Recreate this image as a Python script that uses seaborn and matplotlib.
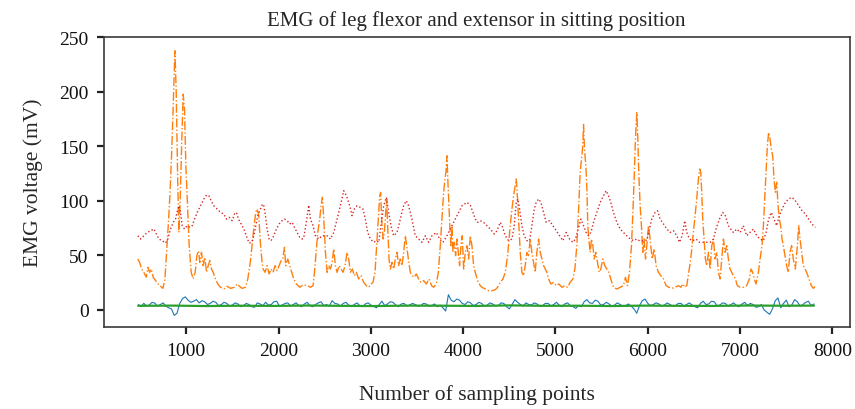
import numpy as np
import pandas as pd
import matplotlib
matplotlib.use("Agg")
import matplotlib.pyplot as plt
import seaborn as sns

# ---- data: sampling point index vs EMG voltage (mV) ----
# Channel 1 (blue): small baseline signal, sampled every 30 points
blue_x = np.arange(480, 7801, 30)
blue_y = [
    5.0, 3.2, 6.0, 3.8, 4.5, 7.0, 6.2, 3.5, 5.0, 6.5, 3.5, 2.0, 1.0, -5.0, -3.0, 6.0, 10.5, 12.0, 9.0, 7.0,
    8.0, 9.5, 6.5, 8.5, 7.5, 5.0, 6.0, 8.0, 7.0, 4.0, 5.0, 7.0, 6.0, 3.5, 4.5, 6.5, 5.5, 3.0, 4.0, 6.0,
    5.0, 3.0, 2.5, 6.5, 5.5, 4.0, 7.0, 4.5, 5.0, 7.5, 8.0, 3.5, 4.5, 6.0, 6.5, 3.5, 5.0, 6.5, 4.0, 3.0,
    5.5, 7.0, 4.0, 3.0, 5.0, 6.5, 7.5, 4.0, 5.0, 3.5, 8.5, 6.0, 5.5, 3.5, 6.0, 7.0, 4.5, 3.0, 5.0, 6.5,
    4.0, 3.0, 5.5, 6.5, 4.5, 3.5, 2.0, 5.0, 8.0, 4.0, 5.5, 7.5, 7.0, 4.5, 3.0, 5.5, 6.0, 3.5, 4.5, 6.0,
    5.0, 3.5, 4.0, 6.0, 5.5, 3.5, 4.0, 5.5, 3.0, 4.5, 2.0, -1.0, 14.0, 9.0, 7.5, 10.0, 9.0, 6.0, 5.0, 7.5,
    6.5, 4.0, 5.0, 7.0, 6.0, 3.5, 4.5, 6.5, 5.5, 3.5, 4.0, 6.5, 6.0, 3.0, 1.0, 5.0, 9.5, 7.0, 5.0, 3.5,
    6.5, 5.0, 4.5, 6.5, 5.5, 3.5, 4.0, 6.0, 6.0, 3.5, 5.0, 7.0, 4.5, 3.0, 5.5, 6.5, 4.0, 3.0, 1.5, 4.0,
    3.0, 7.5, 9.5, 6.5, 6.0, 9.0, 8.0, 4.5, 5.0, 7.0, 5.5, 3.5, 4.5, 6.5, 5.0, 3.5, 4.0, 5.5, 3.5, 1.0,
    -3.0, 4.0, 8.5, 10.0, 6.0, 4.0, 5.0, 6.5, 5.5, 3.5, 4.5, 6.5, 5.0, 3.5, 4.0, 6.0, 6.0, 3.5, 5.0, 6.5,
    4.5, 3.0, 2.0, 6.0, 8.0, 5.0, 5.5, 8.0, 7.5, 4.0, 4.5, 6.5, 6.0, 3.5, 5.0, 6.5, 4.0, 3.0, 5.5, 7.0,
    4.0, 6.0, 5.0, 2.5, 3.0, 5.0, 0.0, -2.0, -4.0, 1.0, 8.5, 11.0, 2.0, 6.0, 9.0, 3.0, 4.5, 9.5, 7.5, 3.5,
    5.0, 7.0, 8.0, 4.0, 5.5,
]

# Channel 2 (orange): large bursts
orange_x = [
    476, 498, 516, 541, 567, 585, 603, 621, 642, 668, 693, 722, 747, 769, 787,
    805, 823, 841, 859, 877, 891, 906, 920, 935, 949, 967, 981, 996, 1014, 1032,
    1054, 1075, 1097, 1115, 1133, 1147, 1165, 1183, 1201, 1220, 1238, 1256, 1274,
    1292, 1317, 1342, 1371, 1407, 1443, 1479, 1523, 1551, 1577, 1605, 1641, 1667,
    1696, 1717, 1735, 1753, 1768, 1786, 1800, 1818, 1833, 1854, 1876, 1898, 1919,
    1941, 1963, 1984, 2006, 2028, 2046, 2064, 2078, 2100, 2121, 2143, 2165, 2194,
    2230, 2266, 2309, 2345, 2374, 2389, 2407, 2425, 2446, 2461, 2475, 2490, 2508,
    2526, 2544, 2562, 2580, 2598, 2616, 2634, 2655, 2677, 2699, 2720, 2742, 2760,
    2778, 2800, 2821, 2843, 2868, 2894, 2922, 2951, 2977, 3002, 3023, 3045, 3063,
    3081, 3096, 3106, 3117, 3132, 3146, 3161, 3171, 3182, 3197, 3211, 3229, 3247,
    3265, 3283, 3301, 3319, 3337, 3355, 3373, 3388, 3406, 3427, 3449, 3471, 3492,
    3518, 3543, 3572, 3601, 3630, 3658, 3680, 3709, 3731, 3752, 3770, 3788, 3803,
    3813, 3824, 3835, 3846, 3857, 3868, 3878, 3889, 3904, 3918, 3933, 3947, 3961,
    3976, 3990, 4005, 4023, 4041, 4059, 4077, 4095, 4113, 4131, 4156, 4185, 4203,
    4239, 4275, 4312, 4348, 4373, 4402, 4431, 4456, 4481, 4503, 4524, 4546, 4564,
    4575, 4589, 4604, 4618, 4636, 4654, 4672, 4690, 4708, 4726, 4744, 4762, 4780,
    4798, 4817, 4835, 4853, 4871, 4889, 4907, 4925, 4950, 4979, 5008, 5037, 5069,
    5102, 5130, 5159, 5188, 5210, 5231, 5249, 5267, 5282, 5293, 5304, 5314, 5329,
    5340, 5350, 5361, 5376, 5390, 5405, 5419, 5437, 5455, 5473, 5491, 5513, 5534,
    5556, 5578, 5599, 5628, 5664, 5700, 5736, 5758, 5780, 5801, 5823, 5837, 5852,
    5866, 5881, 5892, 5902, 5917, 5931, 5946, 5960, 5975, 5989, 6007, 6025, 6047,
    6069, 6090, 6115, 6141, 6170, 6198, 6227, 6260, 6296, 6332, 6357, 6379, 6400,
    6422, 6444, 6465, 6487, 6509, 6530, 6548, 6563, 6574, 6584, 6595, 6610, 6624,
    6638, 6657, 6675, 6693, 6711, 6729, 6747, 6765, 6783, 6801, 6819, 6837, 6855,
    6873, 6891, 6909, 6927, 6949, 6970, 6999, 7035, 7071, 7100, 7118, 7136, 7154,
    7172, 7198, 7216, 7237, 7252, 7266, 7281, 7295, 7309, 7324, 7338, 7353, 7367,
    7382, 7396, 7411, 7425, 7439, 7454, 7468, 7486, 7504, 7522, 7540, 7558, 7576,
    7598, 7620, 7634, 7649, 7667, 7685, 7703, 7721, 7746, 7771, 7793, 7818,
]
orange_y = [
    46.7, 43.0, 37.5, 34.5, 30.0, 39.0, 34.5, 37.5, 30.0, 27.0, 24.0, 21.7, 19.8, 28.0, 52.8,
    77.2, 104.7, 141.3, 187.0, 237.5, 202.0, 126.0, 71.0, 101.7, 147.5, 197.8, 184.0, 132.2, 95.5, 58.9,
    34.5, 28.4, 34.5, 49.8, 54.3, 43.6, 52.8, 40.6, 48.2, 34.5, 40.6, 45.2, 37.5,
    34.5, 28.4, 23.8, 20.8, 19.2, 21.7, 19.8, 20.8, 23.8, 21.7, 19.8, 20.8, 28.4,
    45.2, 62.0, 77.2, 89.4, 92.5, 86.4, 65.0, 46.7, 37.5, 34.5, 40.6, 33.0, 37.5,
    34.5, 40.6, 36.0, 40.6, 45.2, 46.7, 57.4, 40.6, 46.7, 40.6, 34.5, 28.4, 23.8,
    20.8, 23.0, 22.5, 20.8, 22.3, 34.5, 52.8, 71.0, 83.3, 95.5, 103.2, 83.3, 52.8,
    34.5, 40.6, 37.5, 43.6, 55.9, 40.6, 34.5, 40.6, 37.5, 34.5, 40.6, 52.8, 46.7,
    34.5, 37.5, 31.4, 34.5, 28.4, 31.4, 25.3, 22.3, 20.8, 23.8, 25.3, 34.5, 58.9,
    83.3, 104.7, 107.8, 83.3, 65.0, 71.0, 89.4, 101.7, 77.2, 46.7, 37.5, 43.6, 37.5,
    46.7, 52.8, 40.6, 46.7, 40.6, 52.8, 68.0, 58.9, 46.7, 34.5, 31.4, 30.0, 33.0,
    28.4, 25.3, 26.9, 23.8, 28.4, 22.3, 20.8, 23.8, 34.5, 58.9, 83.3, 107.8, 120.0,
    126.0, 141.3, 117.0, 95.5, 74.2, 58.9, 77.2, 52.8, 62.0, 49.8, 65.0, 52.8, 40.6,
    58.9, 68.0, 37.5, 52.8, 58.9, 46.7, 68.0, 58.9, 40.6, 34.5, 26.9, 22.3, 20.8,
    19.2, 17.7, 17.7, 18.6, 20.8, 25.3, 28.4, 34.5, 49.8, 71.0, 89.4, 104.7, 113.9,
    120.0, 101.7, 77.2, 52.8, 34.5, 31.4, 40.6, 52.8, 49.8, 65.0, 52.8, 43.6, 34.5,
    52.8, 65.0, 52.8, 46.7, 40.6, 37.5, 34.5, 28.4, 23.8, 25.3, 22.3, 23.8, 20.8,
    22.3, 20.8, 25.3, 28.4, 37.5, 58.9, 89.4, 126.0, 138.3, 147.5, 170.0, 147.5, 132.2,
    110.8, 77.2, 65.0, 52.8, 65.0, 58.9, 46.7, 52.8, 43.6, 34.5, 37.5, 46.7, 40.6,
    37.5, 34.5, 28.4, 20.8, 19.2, 20.8, 22.3, 30.0, 22.3, 34.5, 58.9, 86.4, 120.0,
    156.6, 181.0, 156.6, 126.0, 95.5, 77.2, 52.8, 65.0, 46.7, 58.9, 77.2, 65.0, 46.7,
    55.9, 40.6, 34.5, 31.4, 28.4, 22.3, 20.8, 19.8, 20.8, 22.3, 20.8, 23.8, 20.8,
    22.3, 34.5, 46.7, 65.0, 83.3, 101.7, 120.0, 129.1, 126.0, 107.8, 83.3, 65.0, 46.7,
    40.6, 52.8, 37.5, 58.9, 65.0, 46.7, 52.8, 34.5, 28.4, 46.7, 65.0, 52.8, 58.9,
    46.7, 37.5, 34.5, 31.4, 28.4, 22.3, 20.8, 20.8, 22.3, 28.4, 37.5, 34.5, 28.4,
    23.8, 34.5, 46.7, 58.9, 77.2, 101.7, 126.0, 150.5, 162.7, 156.6, 147.5, 141.3, 120.0,
    107.8, 117.0, 95.5, 83.3, 77.2, 65.0, 58.9, 49.8, 40.6, 34.5, 52.8, 58.9, 46.7,
    37.5, 58.9, 77.2, 65.0, 52.8, 40.6, 37.5, 34.5, 28.4, 22.3, 19.8, 22.3,
]

# Channel 3 (green): flat baseline
green_x = np.arange(480, 7801, 366)
green_y = [3.8, 4.0, 3.6, 3.9, 3.7, 4.1, 3.8, 3.6, 4.0, 3.9, 3.7,
           4.2, 3.8, 3.9, 3.6, 4.0, 3.8, 3.7, 4.1, 3.9, 4.0]

# Channel 4 (red): slow envelope between 60 and 110 mV
red_x = [
    476, 505, 541, 577, 614, 650, 668, 704, 740, 776, 801, 830, 859, 884, 909,
    924, 938, 956, 981, 1010, 1039, 1064, 1090, 1119, 1155, 1191, 1220, 1245, 1270,
    1299, 1335, 1371, 1407, 1436, 1465, 1497, 1523, 1544, 1566, 1595, 1624, 1652,
    1681, 1710, 1732, 1753, 1775, 1804, 1826, 1840, 1858, 1876, 1898, 1919, 1948,
    1977, 2006, 2038, 2064, 2093, 2121, 2147, 2172, 2201, 2230, 2255, 2273, 2302,
    2327, 2345, 2374, 2399, 2435, 2471, 2526, 2562, 2598, 2634, 2670, 2706, 2735,
    2771, 2796, 2821, 2850, 2886, 2915, 2940, 2966, 2995, 3031, 3060, 3085, 3110,
    3139, 3168, 3193, 3218, 3247, 3283, 3319, 3355, 3384, 3409, 3445, 3481, 3518,
    3554, 3590, 3626, 3662, 3709, 3745, 3781, 3824, 3878, 3933, 3987, 4041, 4077,
    4106, 4131, 4156, 4185, 4221, 4257, 4293, 4337, 4366, 4402, 4427, 4456, 4492,
    4528, 4553, 4575, 4593, 4611, 4636, 4661, 4690, 4719, 4744, 4770, 4791, 4817,
    4842, 4871, 4899, 4936, 4972, 5008, 5044, 5080, 5116, 5152, 5188, 5217, 5246,
    5275, 5304, 5332, 5358, 5383, 5412, 5448, 5484, 5520, 5549, 5574, 5599, 5628,
    5664, 5700, 5736, 5772, 5809, 5845, 5881, 5917, 5953, 5989, 6018, 6043, 6079,
    6105, 6133, 6170, 6206, 6242, 6278, 6314, 6343, 6372, 6400, 6422, 6451, 6487,
    6523, 6559, 6602, 6638, 6675, 6711, 6739, 6776, 6812, 6840, 6873, 6898, 6927,
    6963, 6999, 7035, 7071, 7107, 7144, 7180, 7216, 7252, 7281, 7309, 7338, 7367,
    7396, 7425, 7454, 7490, 7526, 7562, 7598, 7634, 7670, 7706, 7742, 7778, 7815,
]
red_y = [
    68.0, 65.0, 68.0, 71.0, 72.6, 74.2, 71.0, 65.0, 63.5, 61.3, 65.0, 74.2, 80.3, 83.3, 92.5,
    95.5, 89.4, 77.2, 74.2, 77.2, 75.7, 77.2, 83.3, 89.4, 95.5, 101.7, 105.3, 104.7, 100.1,
    95.5, 92.5, 89.4, 87.9, 83.3, 84.9, 81.8, 87.9, 89.4, 83.3, 78.8, 74.2, 68.0,
    61.3, 62.0, 68.0, 77.2, 86.4, 92.5, 97.1, 95.5, 86.4, 74.2, 65.0, 63.5, 68.0,
    74.2, 78.8, 81.8, 83.3, 81.8, 78.8, 80.3, 75.7, 71.0, 66.5, 65.0, 66.0, 81.0,
    96.0, 83.3, 77.2, 68.0, 65.0, 68.0, 68.0, 65.0, 71.0, 83.3, 95.5, 109.3, 104.7,
    95.5, 86.4, 92.5, 95.5, 94.0, 92.5, 83.3, 71.0, 65.0, 62.0, 63.5, 62.0, 77.2,
    95.5, 103.2, 89.4, 77.2, 68.0, 71.0, 83.3, 95.5, 100.1, 95.5, 83.3, 68.0, 65.0,
    62.0, 68.0, 62.0, 68.0, 71.0, 65.0, 62.0, 68.0, 77.2, 86.4, 95.5, 98.6, 96.0,
    89.4, 83.3, 80.3, 81.8, 80.3, 77.2, 74.2, 69.6, 72.6, 80.3, 75.7, 68.0, 63.5,
    65.0, 77.2, 98.6, 101.7, 92.5, 77.2, 68.0, 63.5, 63.5, 77.2, 92.5, 98.6, 101.7,
    98.6, 89.4, 80.3, 81.8, 77.2, 72.6, 68.0, 63.5, 71.0, 65.0, 62.0, 65.0, 74.2,
    83.3, 77.2, 71.0, 68.0, 71.0, 80.3, 89.4, 98.6, 104.7, 109.3, 104.7, 98.6, 89.4,
    80.3, 74.2, 71.0, 68.0, 65.0, 63.5, 65.0, 63.0, 63.5, 64.0, 74.2, 83.3, 89.4,
    91.0, 83.3, 78.8, 74.2, 71.0, 72.6, 68.0, 62.0, 68.0, 81.8, 71.0, 65.0, 63.5,
    65.0, 62.0, 62.0, 62.0, 62.0, 65.0, 74.2, 83.3, 89.4, 86.4, 77.2, 74.2, 71.0,
    74.2, 71.0, 77.2, 68.0, 71.0, 74.2, 68.0, 65.0, 63.5, 71.0, 83.3, 89.4, 83.3,
    77.2, 86.4, 92.5, 98.6, 101.7, 103.2, 100.1, 95.5, 91.0, 88.0, 83.3, 78.8, 75.7,
]

x_ticks = [1000, 2000, 3000, 4000, 5000, 6000, 7000, 8000]
y_ticks = [0, 50, 100, 150, 200, 250]

# ---- styling ----
sns.set_style("ticks")
plt.rcParams["font.family"] = ["Liberation Serif", "DejaVu Serif"]

fig = plt.figure(figsize=(8.55, 4.10), dpi=100)
ax = fig.add_axes([0.1216, 0.200, 0.872, 0.707])

channels = [
    (blue_x, blue_y, "#1f77b4", "-", 0.8),
    (orange_x, orange_y, "#ff7f0e", "-.", 1.0),
    (green_x, green_y, "#2ca02c", "-", 1.6),
    (red_x, red_y, "#d62728", ":", 1.0),
]
for xs, ys, col, ls, lw in channels:
    df = pd.DataFrame({"sample": np.asarray(xs), "emg": np.asarray(ys, dtype=float)})
    sns.lineplot(data=df, x="sample", y="emg", ax=ax, color=col, linestyle=ls,
                 linewidth=lw, estimator=None, sort=False, legend=False)

ax.set_ylim(-15.6, 250)
ax.set_xticks(x_ticks)
ax.set_yticks(y_ticks)

for sp in ax.spines.values():
    sp.set_color("#3a3a3a")
    sp.set_linewidth(1.2)
ax.tick_params(direction="out", length=5, width=1.6, color="#222222",
               labelsize=14, labelcolor="#111111", pad=6)

ax.set_title("EMG of leg flexor and extensor in sitting position", fontsize=15, pad=9)
ax.set_xlabel("Number of sampling points", fontsize=15.5, labelpad=18)
ax.set_ylabel("EMG voltage (mV)", fontsize=15.5, labelpad=12)

fig.savefig("out.png", dpi=100)
